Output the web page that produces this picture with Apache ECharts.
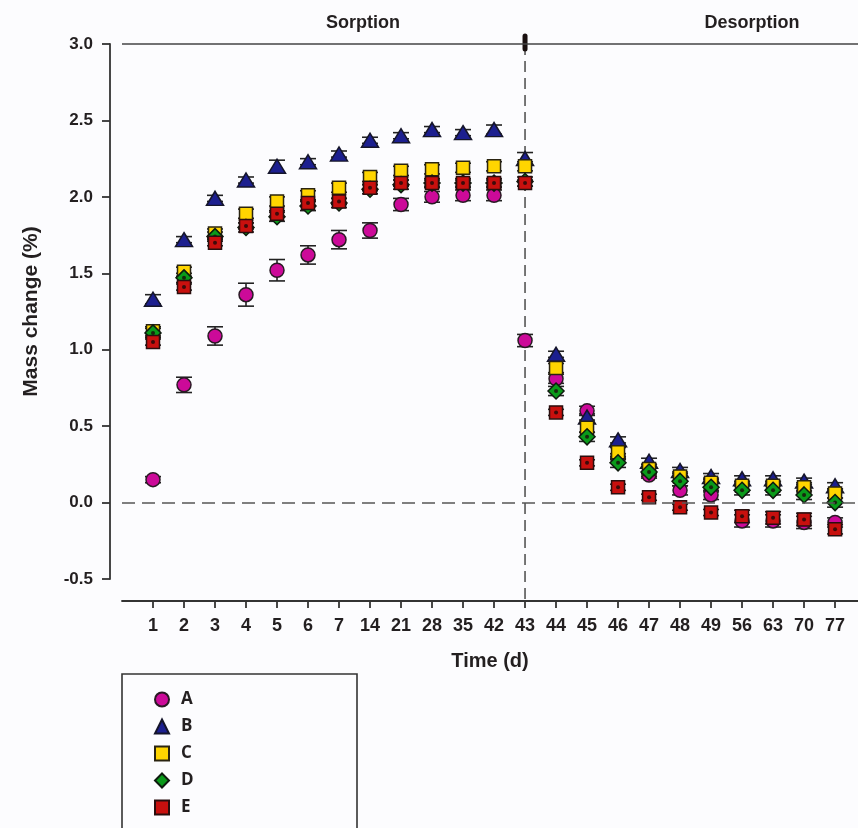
<!DOCTYPE html>
<html>
<head>
<meta charset="utf-8">
<script src="https://cdn.jsdelivr.net/npm/echarts@6/dist/echarts.min.js"></script>
<style>
html,body{margin:0;padding:0;background:#fcfcfe;}
#chart{width:858px;height:828px;}
</style>
</head>
<body>
<div id="chart"></div>
<script>
// Tick labels (days) for each category position
const dayLabels = ['1','2','3','4','5','6','7','14','21','28','35','42','43','44','45','46','47','48','49','56','63','70','77'];
const seriesNames = ['A','B','C','D','E'];

// Mean mass change (%)
const valuesA = [0.15,0.77,1.09,1.36,1.52,1.62,1.72,1.78,1.95,2.00,2.01,2.01,1.06,0.81,0.60,0.30,0.18,0.08,0.05,-0.12,-0.12,-0.13,-0.13];
const valuesB = [1.33,1.72,1.99,2.11,2.20,2.23,2.28,2.37,2.40,2.44,2.42,2.44,2.25,0.97,0.56,0.41,0.27,0.21,0.17,0.155,0.155,0.14,0.11];
const valuesC = [1.12,1.51,1.76,1.89,1.97,2.01,2.06,2.13,2.17,2.18,2.19,2.20,2.20,0.88,0.49,0.33,0.22,0.17,0.13,0.11,0.11,0.10,0.06];
const valuesD = [1.11,1.47,1.74,1.80,1.87,1.94,1.96,2.05,2.08,2.09,2.09,2.09,2.10,0.73,0.43,0.26,0.20,0.14,0.10,0.08,0.08,0.05,0.00];
const valuesE = [1.05,1.41,1.70,1.81,1.89,1.96,1.97,2.06,2.09,2.09,2.09,2.09,2.09,0.59,0.26,0.10,0.035,-0.03,-0.065,-0.09,-0.10,-0.11,-0.175];

// Error (±) values
const errorsA = [0.02,0.05,0.06,0.075,0.07,0.06,0.06,0.05,0.04,0.035,0.035,0.035,0.04,0.03,0.03,0.02,0.02,0.03,0.03,0.04,0.04,0.04,0.03];
const errorsB = [0.03,0.02,0.02,0.02,0.04,0.02,0.02,0.02,0.02,0.02,0.02,0.03,0.04,0.02,0.02,0.02,0.02,0.02,0.02,0.02,0.02,0.02,0.02];
const errorsC = [0.03,0.03,0.03,0.03,0.03,0.03,0.03,0.03,0.03,0.03,0.03,0.03,0.03,0.03,0.03,0.03,0.03,0.03,0.03,0.03,0.03,0.03,0.03];
const errorsD = [0.03,0.03,0.03,0.03,0.03,0.03,0.03,0.03,0.03,0.03,0.03,0.03,0.03,0.03,0.03,0.03,0.03,0.03,0.03,0.03,0.03,0.03,0.03];
const errorsE = [0.02,0.02,0.02,0.02,0.02,0.02,0.02,0.02,0.02,0.02,0.02,0.02,0.02,0.02,0.02,0.02,0.02,0.02,0.02,0.04,0.04,0.04,0.03];

const chart = echarts.init(document.getElementById('chart'), null, {renderer:'canvas'});
const TXT = '#231f20';
const FONT = 'Liberation Sans, Arial, sans-serif';

function pts(vals){ return vals.map((v,i)=>[i,v]); }
function errPts(vals, errs){ return vals.map((v,i)=>[i,v,errs[i]]); }

function renderErr(params, api){
  const x = api.value(0), y = api.value(1), e = api.value(2);
  const hi = api.coord([x, y + e]);
  const lo = api.coord([x, y - e]);
  const w = 8;
  const st = {stroke:'#222', lineWidth:1.6};
  return {type:'group', children:[
    {type:'line', shape:{x1:hi[0],y1:hi[1],x2:lo[0],y2:lo[1]}, style:st},
    {type:'line', shape:{x1:hi[0]-w,y1:hi[1],x2:hi[0]+w,y2:hi[1]}, style:st},
    {type:'line', shape:{x1:lo[0]-w,y1:lo[1],x2:lo[0]+w,y2:lo[1]}, style:st}
  ]};
}

const styles = {
  A:{symbol:'circle', size:14, color:'#cc0a99', border:'#2a1a24'},
  B:{symbol:'triangle', size:[17,14], color:'#1c1f8f', border:'#15152a'},
  C:{symbol:'rect', size:13, color:'#ffd500', border:'#2a2410'},
  D:{symbol:'diamond', size:16, color:'#0a9a1a', border:'#0e1a0e'},
  E:{symbol:'rect', size:13, color:'#c8100e', border:'#2a0e0e'}
};
const allVals = {A:valuesA,B:valuesB,C:valuesC,D:valuesD,E:valuesE};
const allErrs = {A:errorsA,B:errorsB,C:errorsC,D:errorsD,E:errorsE};

const series = [];
seriesNames.forEach(n=>{
  series.push({
    name: n+'_err', type:'custom', renderItem: renderErr,
    data: errPts(allVals[n], allErrs[n]), silent:true, clip:false
  });
  const s = styles[n];
  const sc = {
    name: n, type:'scatter', symbol:s.symbol, symbolSize:s.size,
    itemStyle:{color:s.color, borderColor:s.border, borderWidth:1.5, opacity:1},
    data: pts(allVals[n]), silent:true, clip:false
  };
  if(n==='A'){
    sc.markLine = {
      silent:true, symbol:'none', label:{show:false},
      data:[
        {yAxis:0, lineStyle:{type:[13,7], color:'#555', width:1.6}},
        {yAxis:3, lineStyle:{type:'solid', color:'#444', width:1.6}}
      ]
    };
  }
  series.push(sc);
  if(n==='D' || n==='E'){
    series.push({
      name: n+'_dot', type:'scatter', symbol:'circle', symbolSize:4,
      itemStyle:{color:'#1a0a0a'}, data: pts(allVals[n]), silent:true
    });
  }
});

const boxAndTitles = [
  {type:'rect', shape:{x:122, y:674, width:235, height:200}, style:{fill:'none', stroke:'#333', lineWidth:1.6}},
  {type:'text', x:363, y:23, style:{text:'Sorption', fill:TXT, font:'bold 18px '+FONT, textAlign:'center', textVerticalAlign:'middle'}},
  {type:'text', x:752, y:23, style:{text:'Desorption', fill:TXT, font:'bold 18px '+FONT, textAlign:'center', textVerticalAlign:'middle'}}
];

const option = {
  backgroundColor:'#fcfcfe',
  animation:false,
  grid:{left:122, right:0, top:44, bottom:249, containLabel:false},
  xAxis:{
    type:'value', min:-1, max:22.74, interval:1, offset:22,
    axisLine:{show:true, onZero:false, lineStyle:{color:'#333', width:1.8}},
    axisTick:{show:true, length:7, lineStyle:{color:'#333', width:1.8}, customValues: dayLabels.map((d,i)=>i)},
    axisLabel:{
      customValues: dayLabels.map((d,i)=>i),
      formatter: v => dayLabels[v] !== undefined ? dayLabels[v] : '',
      color:TXT, fontSize:18, fontWeight:'bold', fontFamily:FONT, margin:16
    },
    splitLine:{show:false},
    name:'Time (d)', nameLocation:'middle', nameGap:50,
    nameTextStyle:{color:TXT, fontSize:20, fontWeight:'bold', fontFamily:FONT}
  },
  yAxis:{
    type:'value', min:-0.5, max:3, interval:0.5, offset:12,
    axisLine:{show:true, onZero:false, lineStyle:{color:'#333', width:1.8}},
    axisTick:{show:true, length:8, lineStyle:{color:'#333', width:1.8}},
    axisLabel:{
      formatter: v => v.toFixed(1),
      color:TXT, fontSize:17, fontWeight:'bold', fontFamily:FONT, margin:17
    },
    splitLine:{show:false},
    name:'Mass change (%)', nameLocation:'middle', nameGap:68, nameRotate:90,
    nameTextStyle:{color:TXT, fontSize:21, fontWeight:'bold', fontFamily:FONT}
  },
  legend:{
    data: seriesNames, orient:'vertical', left:154, top:691, padding:0,
    itemWidth:14, itemHeight:14, itemGap:10,
    textStyle:{color:TXT, fontSize:17, fontWeight:'bold', fontFamily:'Open Sans, sans-serif', padding:[0,0,0,7]},
    selectedMode:false
  },
  graphic: boxAndTitles,
  series: series
};
chart.setOption(option);

// vertical dashed separator at day 43 (category index 12), from top of plot down to x axis
const topPt = chart.convertToPixel({xAxisIndex:0, yAxisIndex:0}, [12, 3]);
const botPt = chart.convertToPixel({xAxisIndex:0, yAxisIndex:0}, [12, -0.5]);
chart.setOption({
  graphic: boxAndTitles.concat([
    {type:'line', z:-1, shape:{x1:topPt[0], y1:topPt[1], x2:botPt[0], y2:botPt[1]+22}, style:{stroke:'#555', lineWidth:1.6, lineDash:[11,6]}},
    {type:'line', shape:{x1:topPt[0], y1:topPt[1]-8, x2:topPt[0], y2:topPt[1]+5}, style:{stroke:'#1a1010', lineWidth:5, lineCap:'round'}}
  ])
}, {replaceMerge:['graphic']});
</script>
</body>
</html>
